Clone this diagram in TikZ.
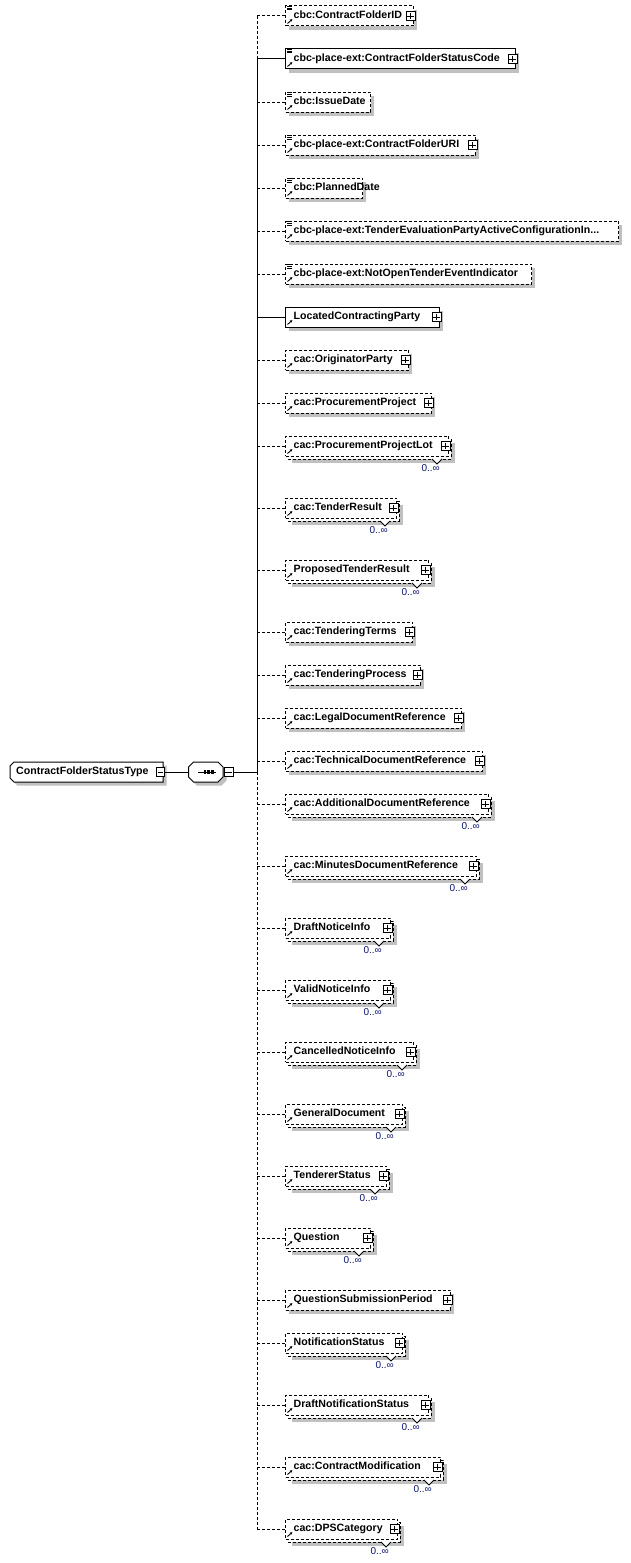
\documentclass[tikz,border=0pt]{standalone}
\usepackage{fontspec}
\setmainfont{Liberation Sans}
\usetikzlibrary{arrows.meta}
\definecolor{shadowc}{RGB}{192,192,192}
\definecolor{occ}{RGB}{10,20,110}
\tikzset{
  optline/.style={line width=1pt, dash pattern=on 3pt off 2pt},
  reqline/.style={line width=1pt},
  optbox/.style={draw, line width=1pt, dash pattern=on 3pt off 2pt, fill=white},
  reqbox/.style={draw, line width=1pt, fill=white},
  elemtext/.style={font=\bfseries\fontsize{10.6}{13}\selectfont, inner sep=0pt, text height=7.7pt, text depth=2.3pt, anchor=west},
  occtext/.style={font=\fontsize{10}{12}\selectfont, text=occ, inner sep=0pt, anchor=east},
  plusbox/.style={draw, fill=white, line width=0.8pt, minimum size=9pt, inner sep=0pt},
  anchorbox/.style={draw=none, inner sep=0pt},
}
% #1 id, #2 y, #3 right x, #4 text, #5 opt/req, #6 simple icon, #7 plus, #8 multi
\newcommand\Elem[8]{%
  \ifnum#8=1
    \fill[shadowc] (292,#2-3) rectangle (#3+7,#2+17);
    \draw[#5box] (288,#2-7) rectangle (#3+3,#2+13);
  \else
    \fill[shadowc] (289,#2-6) rectangle (#3+4,#2+14);
  \fi
  \node[#5box, minimum width=#3-285, minimum height=20pt, inner sep=0pt, anchor=west] (#1) at (285,#2) {};
  \ifnum#6=1
    \draw[line width=0.8pt] (287,#2-9.5) -- (292,#2-9.5) (287,#2-7.8) -- (292,#2-7.8) (287,#2-6.1) -- (292,#2-6.1);
  \fi
  \draw[line width=0.9pt, -{Stealth[length=2.4pt,width=2.8pt]}] (287.5,#2+7.5) -- (292.3,#2+3.2);
  \node[elemtext] (#1-t) at (293.5,#2) {#4};
  \ifnum#7=1
    \node[plusbox] (#1-p) at (#3-2.5,#2) {};
    \draw[line width=0.8pt] ([xshift=1.8pt]#1-p.west) -- ([xshift=-1.8pt]#1-p.east) ([yshift=-1.8pt]#1-p.north) -- ([yshift=1.8pt]#1-p.south);
  \fi
  \ifnum#8=1
    \draw[line width=0.8pt, fill=white] (#3-16,#2+13) -- (#3-11,#2+18) -- (#3-6,#2+13);
    \node[occtext] (#1-o) at (#3-8,#2+22.5) {0..∞};
  \fi
  \coordinate (#1-c) at (257,#2);
  \draw[#5line] (#1-c) -- (#1.west);
}
\begin{document}
\begin{tikzpicture}[x=1pt,y=-1pt]
\fill[white] (0,0) rectangle (630,1563);
\useasboundingbox (0,0) rectangle (630,1563);

% root type
\fill[shadowc] (17.5,765.5) -- (166.5,765.5) -- (166.5,785.5) -- (17.5,785.5) -- (13.5,781.5) -- (13.5,769.5) -- cycle;
\filldraw[fill=white, line width=1pt] (14,762) -- (163,762) -- (163,782) -- (14,782) -- (10,778) -- (10,766) -- cycle;
\node[anchorbox, minimum width=153pt, minimum height=20pt] (root) at (86.5,772) {};
\node[elemtext] (roott) at (16,772) {ContractFolderStatusType};
\node[plusbox, minimum size=8.5pt] (rootm) at (160.5,772) {};
\draw[line width=0.8pt] ([xshift=1.8pt]rootm.west) -- ([xshift=-1.8pt]rootm.east);

% sequence compositor
\fill[shadowc] (197,765.5) -- (221.5,765.5) -- (226.5,770.5) -- (226.5,780.5) -- (221.5,785.5) -- (197,785.5) -- (192,780.5) -- (192,770.5) -- cycle;
\filldraw[fill=white, line width=1pt] (193.5,762) -- (218,762) -- (223,767) -- (223,777) -- (218,782) -- (193.5,782) -- (188.5,777) -- (188.5,767) -- cycle;
\node[anchorbox, minimum width=34.5pt, minimum height=20pt] (seq) at (205.75,772) {};
\draw[line width=1pt] (198,772) -- (216,772);
\fill (203.5,770.3) rectangle (206.3,773.7);
\fill (207.3,770.3) rectangle (210.1,773.7);
\fill (211.1,770.3) rectangle (213.9,773.7);
\node[plusbox] (seqm) at (228.5,772) {};
\draw[line width=0.8pt] ([xshift=1.8pt]seqm.west) -- ([xshift=-1.8pt]seqm.east);
\coordinate (join) at (257,772);
\draw[line width=1pt] (rootm.east) -- (seq.west);
\draw[line width=1pt] (seqm.east) -- (join);

\Elem{e1}{16}{413}{cbc:ContractFolderID}{opt}{1}{1}{0}
\Elem{e2}{59}{515}{cbc-place-ext:ContractFolderStatusCode}{req}{1}{1}{0}
\Elem{e3}{102}{370}{cbc:IssueDate}{opt}{1}{0}{0}
\Elem{e4}{145}{475}{cbc-place-ext:ContractFolderURI}{opt}{1}{1}{0}
\Elem{e5}{188}{362}{cbc:PlannedDate}{opt}{1}{0}{0}
\Elem{e6}{231}{618}{cbc-place-ext:TenderEvaluationPartyActiveConfigurationIn...}{opt}{1}{0}{0}
\Elem{e7}{274}{531}{cbc-place-ext:NotOpenTenderEventIndicator}{opt}{1}{0}{0}
\Elem{e8}{317}{439}{LocatedContractingParty}{req}{0}{1}{0}
\Elem{e9}{360}{408}{cac:OriginatorParty}{opt}{0}{1}{0}
\Elem{e10}{403}{431}{cac:ProcurementProject}{opt}{0}{1}{0}
\Elem{e11}{446}{448}{cac:ProcurementProjectLot}{opt}{0}{1}{1}
\Elem{e12}{508}{396}{cac:TenderResult}{opt}{0}{1}{1}
\Elem{e13}{570}{428}{ProposedTenderResult}{opt}{0}{1}{1}
\Elem{e14}{632}{412}{cac:TenderingTerms}{opt}{0}{1}{0}
\Elem{e15}{675}{420}{cac:TenderingProcess}{opt}{0}{1}{0}
\Elem{e16}{718}{461}{cac:LegalDocumentReference}{opt}{0}{1}{0}
\Elem{e17}{761}{482}{cac:TechnicalDocumentReference}{opt}{0}{1}{0}
\Elem{e18}{804}{488}{cac:AdditionalDocumentReference}{opt}{0}{1}{1}
\Elem{e19}{866}{476}{cac:MinutesDocumentReference}{opt}{0}{1}{1}
\Elem{e20}{928}{390}{DraftNoticeInfo}{opt}{0}{1}{1}
\Elem{e21}{990}{390}{ValidNoticeInfo}{opt}{0}{1}{1}
\Elem{e22}{1052}{413}{CancelledNoticeInfo}{opt}{0}{1}{1}
\Elem{e23}{1114}{402}{GeneralDocument}{opt}{0}{1}{1}
\Elem{e24}{1176}{386}{TendererStatus}{opt}{0}{1}{1}
\Elem{e25}{1238}{370}{Question}{opt}{0}{1}{1}
\Elem{e26}{1300}{450}{QuestionSubmissionPeriod}{opt}{0}{1}{0}
\Elem{e27}{1343}{402}{NotificationStatus}{opt}{0}{1}{1}
\Elem{e28}{1405}{428}{DraftNotificationStatus}{opt}{0}{1}{1}
\Elem{e29}{1467}{440}{cac:ContractModification}{opt}{0}{1}{1}
\Elem{e30}{1529}{397}{cac:DPSCategory}{opt}{0}{1}{1}

% vertical spine
\draw[optline] (e1-c) -- (e2-c);
\draw[reqline] (e2-c) -- (join);
\draw[optline] (join) -- (e30-c);
\end{tikzpicture}
\end{document}
